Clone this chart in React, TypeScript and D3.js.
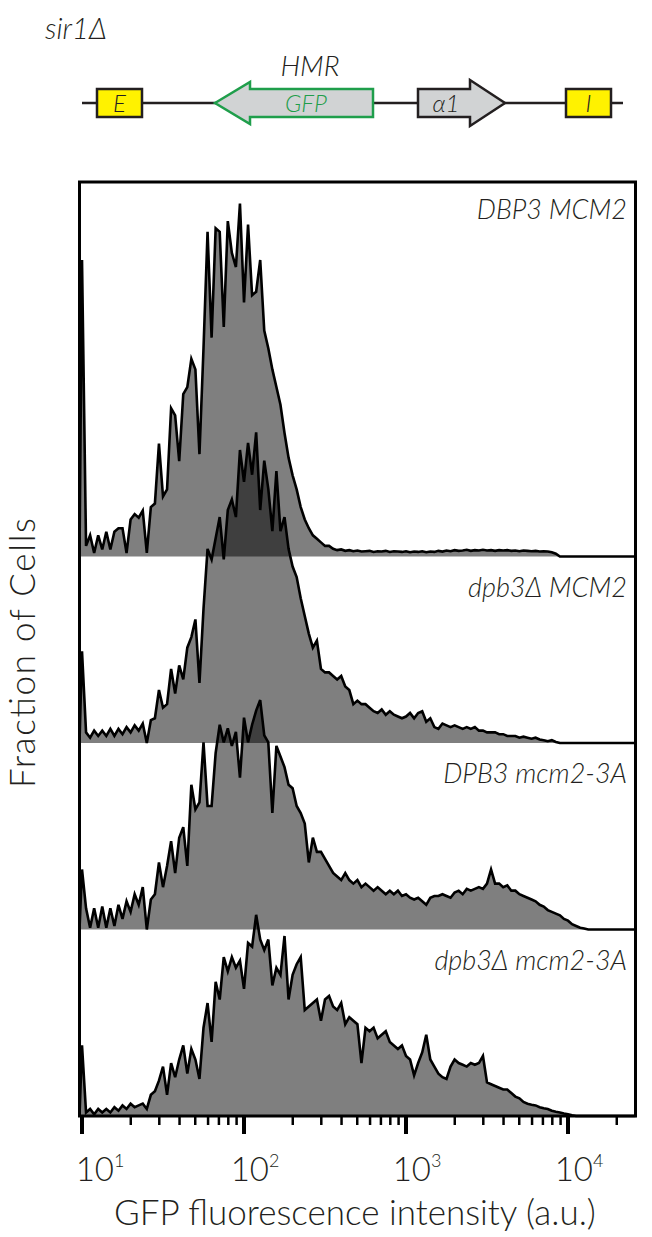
import * as d3 from 'd3';

// panel names, top to bottom
const panelLabels = ['DBP3 MCM2', 'dpb3Δ MCM2', 'DPB3 mcm2-3A', 'dpb3Δ mcm2-3A'];

// histogram bins: centre of bin i sits at 10^(binStartLog + i * binStepLog)
const binStartLog = 1;
const binStepLog = 0.025;

// fraction of cells per bin (relative units, 100 = tallest peak)
const dbp3Mcm2 = [
  84, 3, 6, 1, 6, 2, 7, 2, 7, 8, 8, 1, 10.5, 12, 11, 13, 1, 14, 15, 32,
  17, 19, 42, 40, 27, 46, 48, 56, 53, 29, 59, 92, 62, 93, 92, 65, 95, 86, 82, 100,
  72, 94, 74, 75, 84, 64, 59, 53, 48, 43, 35, 28, 23, 19, 14, 10.5, 8, 6, 5, 4,
  3, 3, 2.2, 1.8, 2, 1.6, 1.8, 1.5, 1.7, 1.4, 1.5, 1.6, 1.3, 1.5, 1.4, 1.6, 1.3, 1.5, 1.4, 1.3,
  1.5, 1.2, 1.4, 1.3, 1.5, 1.2, 1.4, 1.3, 1.6, 1.4, 1.7, 1.5, 1.8, 1.6, 1.7, 1.9, 1.6, 1.8, 1.7, 1.9,
  1.7, 1.8, 1.6, 1.8, 1.7, 1.8, 1.6, 1.7, 1.5, 1.7, 1.6, 1.5, 1.6, 1.4, 1.5, 1.4, 1.2, 0.8, 0,
];

const dpb3dMcm2 = [
  26, 3, 1.5, 3.5, 2, 3.5, 2, 4, 2, 4, 2.5, 4.5, 3, 5, 3.5, 5.5, 0, 6.5, 7, 15,
  10, 11, 21, 14, 22, 18, 27, 30, 35, 17, 38, 55, 52, 58, 64, 52, 66, 69, 64, 83,
  74, 85, 76, 88, 66, 80, 72, 60, 77, 60, 64, 55, 50, 47, 41, 36, 31, 27, 29, 21,
  20, 20, 19, 18, 19, 16, 15, 11, 12, 11, 11, 10, 9, 8.5, 9.5, 8, 9, 8, 7.5, 7,
  7.5, 8.5, 7, 8.5, 9, 6, 7, 4.5, 4, 5.5, 5, 4.5, 5, 4.5, 4, 4.5, 4, 4.5, 3.5, 3.5,
  3, 3, 3, 2.5, 2.5, 2, 2, 2, 1.5, 1.8, 1.5, 1.2, 1.5, 1, 0.8, 0.5, 0.8, 0.3, 0,
];

const dpb3Mcm23a = [
  17, 6, 0.5, 6, 0.5, 6.5, 0.5, 6, 1, 7, 3, 8, 5, 10, 7, 12, 0, 8.5, 10, 19,
  12, 18, 25, 16, 26, 29, 18, 41, 34, 36, 53, 35, 35, 50, 58, 53, 57, 52, 56, 43,
  60, 53, 58, 62, 65, 55, 53, 33, 52, 49, 46, 41, 40, 35, 33, 30, 19, 26, 22, 22,
  20, 18, 16, 15, 14, 16, 14, 13, 14, 12, 13, 12, 11, 12, 11, 10, 11, 10, 11, 9.5,
  10, 9, 8.5, 9, 8, 7, 9, 9.5, 9.5, 10, 9.5, 9, 10.5, 11, 10, 11.5, 11, 11.5, 12, 11.5,
  13, 17, 13, 13, 12, 12.5, 11, 11, 10, 9.5, 9, 8.5, 8, 7, 6.5, 5.5, 5, 4.5, 4, 3,
  2.5, 1.5, 1, 0.5, 0.3, 0,
];

const dpb3dMcm23a = [
  20, 1, 2, 0.5, 2, 1, 2, 1, 2.5, 1.5, 3, 2, 3.5, 2.5, 3, 3.5, 2, 6, 7, 10,
  14, 6, 15, 11, 16, 20, 12, 19, 16, 10.5, 25, 32, 21, 38, 33, 45, 41, 45, 42, 44,
  36, 49, 48, 57, 50, 47, 50, 37, 42, 40, 51, 33, 40, 43, 45, 30, 31, 32, 33, 27,
  33, 34, 31, 30, 32, 26, 28, 27, 26, 15, 25, 24, 25, 22, 23, 24, 21, 20, 19, 20,
  17, 16, 11.5, 15, 18, 23, 16, 14, 12, 11, 10.5, 14, 16, 15, 14.5, 14, 15, 14.5, 15, 17,
  9.5, 9, 8.5, 8, 7.5, 7.5, 6.5, 5.5, 5, 4, 3.5, 3.2, 3, 2.5, 2.2, 2, 1.5, 1.2, 1, 0.7,
  0.5, 0.2, 0,
];

const series = [dbp3Mcm2, dpb3dMcm2, dpb3Mcm23a, dpb3dMcm23a];

// x axis
const xDomain: [number, number] = [9.65, 26100];
const decades = [1, 2, 3, 4];
const minorSteps = [2, 3, 4, 5, 6, 7, 8, 9];

const font = 'Lato, "Open Sans", sans-serif';
const ink = '#231f20';

export default function App() {
  const width = 652;
  const height = 1237;
  const frame = { left: 79.5, right: 635.5, top: 182, bottom: 1116 };
  const baselines = [556.5, 743, 929.5, 1116];
  const peakPx = 353;

  const x = d3.scaleLog().domain(xDomain).range([frame.left, frame.right]);

  const majorTicks = decades.map(d => 10 ** d);
  const minorTicks = decades
    .flatMap(d => minorSteps.map(k => k * 10 ** d))
    .filter(v => v >= xDomain[0] && v <= xDomain[1]);

  const panels = series.map((vals, k) => {
    const y = d3.scaleLinear().domain([0, 100]).range([baselines[k], baselines[k] - peakPx]);
    const pts: [number, number][] = [
      [xDomain[0], 0],
      ...vals.map((v, i) => [10 ** (binStartLog + binStepLog * i), v] as [number, number]),
      [xDomain[1], 0],
    ];
    const line = d3.line<[number, number]>().x(d => x(d[0])).y(d => y(d[1]));
    const area = d3.area<[number, number]>().x(d => x(d[0])).y0(y(0)).y1(d => y(d[1]));
    return { line: line(pts) || '', area: area(pts) || '' };
  });

  return (
    <svg
      width={width}
      height={height}
      style={{ position: 'absolute', left: 0, top: 0, background: '#fff' }}
      fontFamily={font}
    >
      {/* locus diagram */}
      <g fill={ink}>
        <text x={45} y={39} fontSize={29} fontStyle="italic" fontWeight={300}>sir1Δ</text>
        <text x={310} y={76} fontSize={28} fontStyle="italic" fontWeight={300} textAnchor="middle">HMR</text>
        <line x1={82} x2={623} y1={103} y2={103} stroke={ink} strokeWidth={2.5} />
        <rect x={97} y={89} width={45} height={28} fill="#fff200" stroke={ink} strokeWidth={2.5} />
        <text x={119.5} y={112} fontSize={24} fontStyle="italic" fontWeight={300} textAnchor="middle">E</text>
        <polygon
          points="215,103 250,82 250,89 373,89 373,117 250,117 250,124"
          fill="#d1d3d4"
          stroke="#1f9e4b"
          strokeWidth={2.5}
        />
        <text x={306} y={112} fontSize={24} fontStyle="italic" fontWeight={300} textAnchor="middle" fill="#1f9e4b">GFP</text>
        <polygon
          points="418,89 470,89 470,80 505,103 470,126 470,117 418,117"
          fill="#d1d3d4"
          stroke={ink}
          strokeWidth={2.5}
        />
        <text x={446} y={112} fontSize={24} fontStyle="italic" fontWeight={300} textAnchor="middle">α1</text>
        <rect x={566} y={89} width={45} height={28} fill="#fff200" stroke={ink} strokeWidth={2.5} />
        <text x={588.5} y={112} fontSize={24} fontStyle="italic" fontWeight={300} textAnchor="middle">I</text>
      </g>

      {/* histograms */}
      {panels.map((p, k) => (
        <g key={k}>
          <path d={p.area} fill="#000" fillOpacity={0.5} />
          <path d={p.line} fill="none" stroke="#000" strokeWidth={2.6} strokeLinejoin="miter" />
        </g>
      ))}

      {/* panel labels */}
      {panelLabels.map((lab, k) => (
        <text
          key={lab}
          x={627}
          y={k === 0 ? 219 : baselines[k - 1] + 40}
          fontSize={27}
          fontStyle="italic"
          fontWeight={300}
          textAnchor="end"
          fill={ink}
        >
          {lab}
        </text>
      ))}

      {/* frame */}
      <rect
        x={frame.left}
        y={frame.top}
        width={frame.right - frame.left}
        height={frame.bottom - frame.top}
        fill="none"
        stroke="#000"
        strokeWidth={3}
      />

      {/* x axis ticks */}
      {minorTicks.map(v => (
        <line key={v} x1={x(v)} x2={x(v)} y1={frame.bottom} y2={frame.bottom + 9} stroke="#000" strokeWidth={2.5} />
      ))}
      {majorTicks.map(v => (
        <line key={v} x1={x(v)} x2={x(v)} y1={frame.bottom} y2={frame.bottom + 18} stroke="#000" strokeWidth={4} />
      ))}
      {decades.map(d => (
        <text
          key={d}
          x={x(10 ** d) + (d === 1 ? 18 : 11)}
          y={1181}
          fontSize={33}
          fontWeight={300}
          textAnchor="middle"
          fill={ink}
        >
          10<tspan dy={-14} fontSize={18}>{d}</tspan>
        </text>
      ))}

      <text x={355} y={1225} fontSize={35} fontWeight={300} textAnchor="middle" fill={ink}>
        GFP fluorescence intensity (a.u.)
      </text>
      <text
        transform="translate(35,653) rotate(-90)"
        fontSize={35}
        fontWeight={300}
        textAnchor="middle"
        textLength={270}
        lengthAdjust="spacing"
        fill={ink}
      >
        Fraction of Cells
      </text>
    </svg>
  );
}
